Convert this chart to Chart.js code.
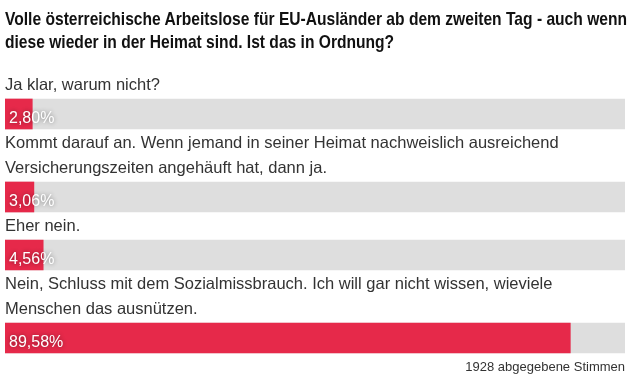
<!DOCTYPE html>
<html>
<head>
<meta charset="utf-8">
<script src="https://cdn.jsdelivr.net/npm/chart.js"></script>
<style>
  html, body { margin: 0; padding: 0; background: #fff; }
  #wrap { position: relative; width: 638px; height: 385px; overflow: hidden; }
  #title {
    position: absolute; left: 5px; top: 7px;
    font: bold 19px/23px "Liberation Sans", Arial, sans-serif;
    color: #111;
    transform-origin: 0 0;
    z-index: 2;
  }
  #title span { display: block; white-space: nowrap; }
  #footer {
    position: absolute; right: 13px; top: 359px;
    font: 13px/16px "Liberation Sans", Arial, sans-serif;
    color: #333;
  }
  canvas { position: absolute; left: 0; top: 0; }
</style>
</head>
<body>
<div id="wrap">
  <canvas id="poll" width="638" height="385"></canvas>
  <div id="title"><span id="t1">Volle österreichische Arbeitslose für EU-Ausländer ab dem zweiten Tag - auch wenn</span><span>diese wieder in der Heimat sind. Ist das in Ordnung?</span></div>
  <div id="footer"></div>
</div>
<script>
// Antworten (Zeilen wie im Original umbrochen) und Anteile in Prozent
const answers = [
  ['Ja klar, warum nicht?'],
  ['Kommt darauf an. Wenn jemand in seiner Heimat nachweislich ausreichend', 'Versicherungszeiten angehäuft hat, dann ja.'],
  ['Eher nein.'],
  ['Nein, Schluss mit dem Sozialmissbrauch. Ich will gar nicht wissen, wieviele', 'Menschen das ausnützen.']
];
const shares = [2.80, 3.06, 4.56, 89.58];
const totalVotes = 1928;

document.getElementById('footer').textContent = totalVotes + ' abgegebene Stimmen';

// Titel im Original ist eine schmale (condensed) Schrift -> horizontal stauchen
const title = document.getElementById('title');
const t1w = document.getElementById('t1').getBoundingClientRect().width;
title.style.transform = 'scaleX(' + (622 / t1w) + ')';

// Layout der Zeilen: Textzeilen über jedem Balken
const FIRST_ROW = 85, LINE_H = 25, BAR_GAP = 29;
const rows = [];
const barPos = [];
let pos = FIRST_ROW;
answers.forEach(lines => {
  lines.forEach((t, i) => {
    rows.push({ y: pos, text: t });
    if (i < lines.length - 1) pos += LINE_H;
  });
  pos += BAR_GAP;
  barPos.push(pos);
  pos += BAR_GAP;
});

// Balken starten 10px vor dem Nullpunkt (Innenabstand im Original)
const X_MIN = -1.6, X_MAX = 98.4;

const fmt = v => v.toFixed(2).replace('.', ',') + '%';

const pctLabels = {
  id: 'pctLabels',
  afterDatasetsDraw(chart) {
    const ctx = chart.ctx;
    const meta = chart.getDatasetMeta(0);
    ctx.save();
    ctx.font = '16px "Liberation Sans", Arial, sans-serif';
    ctx.fillStyle = '#fff';
    ctx.textBaseline = 'alphabetic';
    ctx.shadowColor = 'rgba(0,0,0,0.45)';
    ctx.shadowBlur = 4;
    meta.data.forEach((bar, i) => {
      ctx.fillText(fmt(shares[i]), chart.chartArea.left + 4, bar.y + 9);
    });
    ctx.restore();
  }
};

new Chart(document.getElementById('poll'), {
  type: 'bar',
  data: {
    datasets: [
      {
        label: 'Anteil',
        data: shares.map((v, i) => ({ x: [X_MIN, v], y: barPos[i] })),
        backgroundColor: '#e6294a',
        barThickness: 30,
        grouped: false,
        order: 0
      },
      {
        label: 'Hintergrund',
        data: shares.map((v, i) => ({ x: [X_MIN, X_MAX], y: barPos[i] })),
        backgroundColor: '#dedede',
        barThickness: 30,
        grouped: false,
        order: 1
      }
    ]
  },
  options: {
    indexAxis: 'y',
    responsive: false,
    animation: false,
    layout: { padding: { left: 5, right: 13, top: 0, bottom: 0 } },
    scales: {
      x: { type: 'linear', min: X_MIN, max: X_MAX, display: false },
      y: {
        type: 'linear',
        reverse: true,
        min: 0,
        max: 385,
        offset: false,
        grid: { display: false },
        border: { display: false },
        afterBuildTicks(scale) {
          scale.ticks = rows.map(r => ({ value: r.y }));
        },
        afterFit(scale) {
          scale.width = 0;
          scale.paddingTop = 0;
          scale.paddingBottom = 0;
        },
        ticks: {
          mirror: true,
          padding: 0,
          autoSkip: false,
          color: '#333',
          font: { family: '"Liberation Sans", Arial, sans-serif', size: 16.5 },
          callback: (v, i) => rows[i] ? rows[i].text : ''
        }
      }
    },
    plugins: {
      legend: { display: false },
      tooltip: { enabled: false }
    }
  },
  plugins: [pctLabels]
});
</script>
</body>
</html>
